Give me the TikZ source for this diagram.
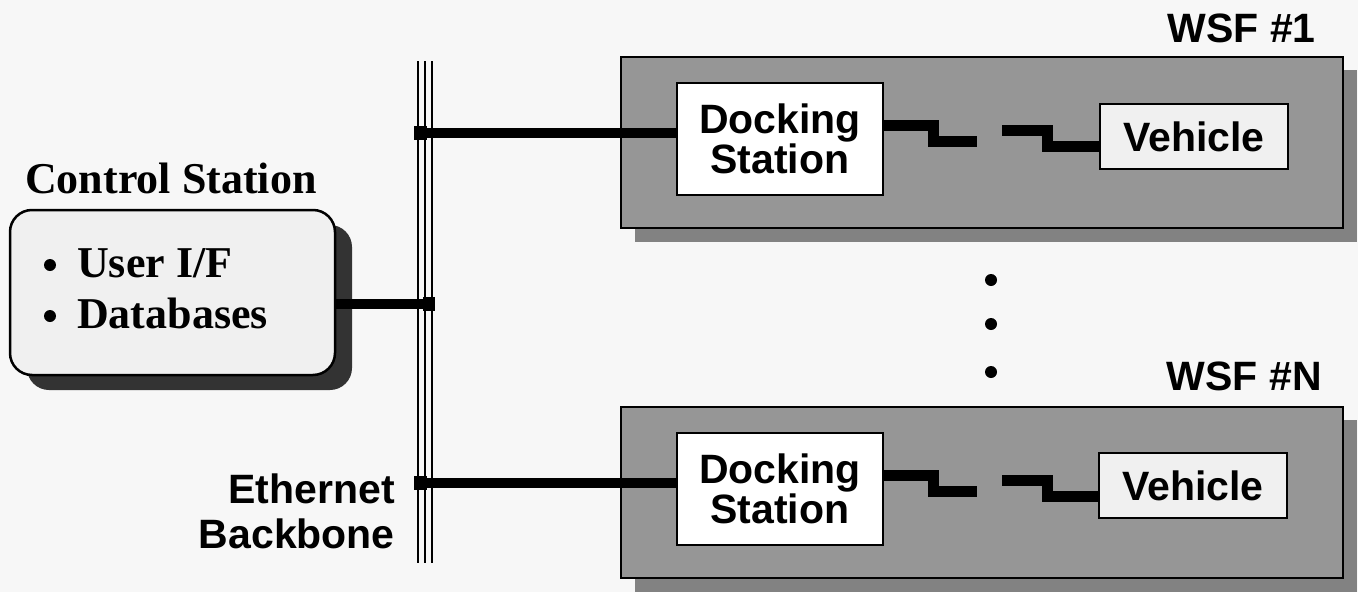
\documentclass[tikz,border=0pt]{standalone}
\usepackage{fontspec}
\setmainfont{Liberation Serif}
\setsansfont{Liberation Sans}
\begin{document}
\begin{tikzpicture}[x=1pt,y=-1pt,
  sanslbl/.style={font=\sffamily\bfseries\fontsize{41}{40}\selectfont, inner sep=0pt},
  seriflbl/.style={font=\rmfamily\bfseries\fontsize{44}{48}\selectfont, inner sep=0pt},
  wsfbox/.style={draw=black, line width=2.5pt, fill={rgb,255:red,150;green,150;blue,150}},
  wsfshadow/.style={fill={rgb,255:red,130;green,130;blue,130}},
  dsbox/.style={draw=black, line width=2.5pt, fill=white, minimum width=206pt, minimum height=112pt, inner sep=0pt, align=center, font=\sffamily\bfseries\fontsize{41}{40}\selectfont},
  vehbox/.style={draw=black, line width=2.5pt, fill=black!6, minimum width=188pt, minimum height=65pt, inner sep=0pt, font=\sffamily\bfseries\fontsize{41}{40}\selectfont},
  link/.style={line width=10pt},
  radio/.style={line width=11pt},
  bbline/.style={line width=2.6pt},
  dotmark/.style={circle, fill=black, inner sep=0pt, minimum size=12pt},
  bulletmark/.style={circle, fill=black, inner sep=0pt, minimum size=12pt}
]
\useasboundingbox (0,0) rectangle (1358,592);
\fill[white!97!black] (0,0) rectangle (1358,592);

% Control station
\fill[black!80, rounded corners=22pt] (27,225) rectangle (352,390);
\node[draw=black, line width=2.5pt, fill=black!6, rounded corners=22pt, minimum width=325pt, minimum height=165pt, inner sep=0pt] (cs) at (172.5,292.5) {};
\node[seriflbl, anchor=base west] (cstitle) at (25,193) {Control Station};
\node[bulletmark] (b1) at (50,265) {};
\node[seriflbl, anchor=base west] (cs1) at (77,277) {User I/F};
\node[bulletmark] (b2) at (50,316) {};
\node[seriflbl, anchor=base west] (cs2) at (77,328) {Databases};

% WSF boxes
\fill[wsfshadow] (635,70) rectangle (1357,242);
\draw[wsfbox] (621,57) rectangle (1343,228);
\fill[wsfshadow] (635,420) rectangle (1357,592);
\draw[wsfbox] (621,407) rectangle (1343,578);

\node[sanslbl, anchor=base east] (wsf1) at (1316,42) {WSF \#1};
\node[sanslbl, anchor=base east] (wsfn) at (1322,390) {WSF \#N};

% Backbone
\draw[bbline] (418,61) -- (418,563);
\draw[bbline] (425,61) -- (425,563);
\draw[bbline] (432,61) -- (432,563);
\node[sanslbl, anchor=base east] (eth) at (395,503) {Ethernet};
\node[sanslbl, anchor=base east] (bkb) at (395,548) {Backbone};

\coordinate (j1) at (416,133);
\coordinate (j2) at (433,304);
\coordinate (j3) at (416,483);

% Docking stations and vehicles
\node[dsbox] (ds1) at (780,139) {Docking\\Station};
\node[dsbox] (ds2) at (780,489) {Docking\\Station};
\node[vehbox] (v1) at (1194,136.5) {Vehicle};
\node[vehbox] (v2) at (1193,485.5) {Vehicle};

% Links
\draw[link] (j1) -- (ds1.west |- j1);
\draw[link] (j3) -- (ds2.west |- j3);
\draw[link] (cs.east |- j2) -- (j2);
\fill (414,126) rectangle (427,140);
\fill (423,297) rectangle (435,311);
\fill (414,476) rectangle (427,490);

% Radio links
\coordinate (r1a) at (977,141);
\coordinate (r1b) at (1002,130);
\draw[radio] (ds1.east |- 0,125) -- (933,125) -- (933,141) -- (r1a);
\draw[radio] (r1b) -- (1047,130) -- (1047,146) -- (v1.west |- 0,146);
\coordinate (r2a) at (977,491);
\coordinate (r2b) at (1002,480);
\draw[radio] (ds2.east |- 0,475) -- (933,475) -- (933,491) -- (r2a);
\draw[radio] (r2b) -- (1047,480) -- (1047,496) -- (v2.west |- 0,496);

% Continuation dots
\node[dotmark] (d1) at (991,280) {};
\node[dotmark] (d2) at (991,324) {};
\node[dotmark] (d3) at (991,372) {};
\end{tikzpicture}
\end{document}
